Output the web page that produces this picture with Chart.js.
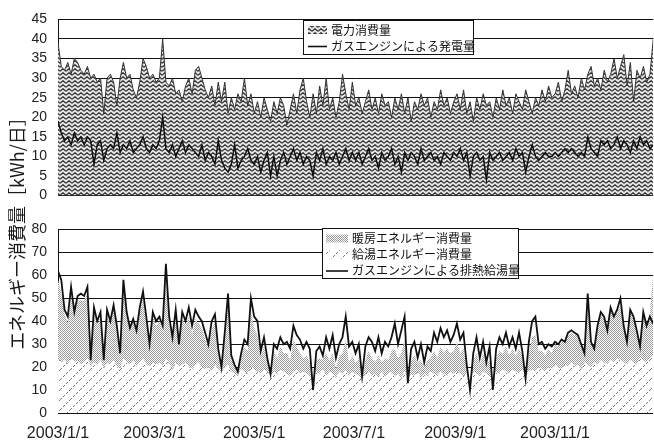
<!DOCTYPE html>
<html>
<head>
<meta charset="utf-8">
<script src="https://cdn.jsdelivr.net/npm/chart.js@4.4.0/dist/chart.umd.min.js"></script>
<style>
body{margin:0;background:#fff;width:654px;height:443px;overflow:hidden;position:relative}
#c1{position:absolute;left:0;top:0}
#c2{position:absolute;left:0;top:210px}
#ytitle{position:absolute;left:-124px;top:218px;width:280px;height:22px;line-height:22px;text-align:center;
  font-family:"Noto Sans CJK JP",sans-serif;font-size:18px;color:#1a1a1a;transform:rotate(-90deg);white-space:nowrap}
</style>
</head>
<body>
<canvas id="c1" width="654" height="215"></canvas>
<canvas id="c2" width="654" height="233"></canvas>
<div id="ytitle">エネルギー消費量［kWh/日］</div>
<script>
// 1点 = 2日おき (2003/1/1 〜 2003/12/31)
var DAY_STEP = 2

// x軸の目盛 (通日) とラベル
var tickDays = [0, 59, 120, 181, 243, 304]
var tickLabels = ['2003/1/1', '2003/3/1', '2003/5/1', '2003/7/1', '2003/9/1', '2003/11/1']

// 凡例
var legendTop = ['電力消費量', 'ガスエンジンによる発電量']
var legendBottom = ['暖房エネルギー消費量', '給湯エネルギー消費量', 'ガスエンジンによる排熱給湯量']

// 上段: 電力消費量
var elecUse = [
  39,33,32,34,31,35,34,32,31,33,30,31,29,30,21,30,
  31,29,23,30,34,30,31,27,25,29,35,33,30,31,
  29,30,40,29,28,30,26,27,24,28,30,26,32,33,30,27,
  25,28,23,29,24,29,21,25,22,26,24,30,23,26,21,
  24,20,25,22,19,24,21,25,23,18,22,26,21,27,30,
  24,20,26,21,28,23,30,22,25,20,24,31,26,22,29,
  23,25,21,24,27,22,25,21,26,23,24,20,25,22,26,21,
  25,19,24,22,26,23,25,20,24,22,27,23,25,21,24,
  26,22,27,21,24,19,25,22,26,23,24,20,25,22,27,
  23,25,21,26,24,22,27,24,21,25,23,27,24,28,25,26,
  29,24,27,32,26,28,25,30,27,31,33,28,30,27,32,
  29,31,35,30,33,36,28,34,24,32,30,33,29,31,40
]

// 上段: ガスエンジンによる発電量
var gasPower = [
  19,16,14,15,13,16,14,15,13,15,14,8,13,14,9,12,
  13,12,16,11,13,12,14,11,12,13,15,12,11,13,
  12,14,20,12,11,13,10,12,14,11,13,12,11,10,13,9,
  11,10,8,14,9,7,6,8,13,7,9,10,12,9,8,
  10,6,9,11,5,10,5,9,11,8,10,12,9,11,8,
  10,9,5,11,9,12,8,10,9,11,8,10,12,9,11,
  9,11,8,10,12,9,10,7,11,9,10,12,8,10,6,11,
  9,11,10,8,12,9,10,11,9,10,8,11,10,9,11,
  10,12,9,11,5,10,11,9,10,4,11,9,10,11,9,
  10,11,9,12,10,11,6,10,13,10,9,10,11,10,10,11,
  10,11,12,11,12,11,10,11,10,15,12,11,10,14,13,
  14,12,13,15,12,14,13,11,14,12,15,13,14,12,13
]

// 下段: 給湯エネルギー消費量
var hotWater = [
  24,22,23,21,24,22,23,21,22,24,20,22,21,23,19,22,
  21,23,20,19,24,22,21,23,20,22,24,21,20,22,
  21,22,20,24,21,19,22,20,21,22,20,19,21,22,20,19,
  20,18,21,19,17,20,21,18,17,16,19,18,17,20,19,
  18,17,19,18,16,18,17,19,18,17,16,18,19,17,18,
  17,16,15,18,17,19,16,18,17,15,18,17,19,16,18,
  17,16,14,17,18,16,17,15,18,16,17,18,16,17,15,18,
  14,17,16,18,15,17,16,18,17,16,18,17,16,18,17,
  18,17,16,17,14,18,17,16,18,17,16,14,18,17,19,
  18,17,19,18,17,19,16,18,19,18,20,19,18,20,19,21,
  20,19,21,20,22,20,21,19,22,21,20,22,21,23,22,
  21,23,22,24,23,22,21,23,22,21,24,23,22,24,25
]

// 下段: 暖房エネルギー消費量 (給湯の上に積み上げ)
var heating = [
  34,30,20,18,26,20,26,28,27,28,6,22,17,19,6,20,
  17,22,16,8,30,20,14,17,15,22,26,19,9,20,
  17,18,16,34,18,12,20,9,20,16,22,15,20,17,17,13,
  9,18,19,7,3,13,26,5,4,2,6,11,10,24,18,
  16,8,10,5,2,9,7,10,8,9,7,14,10,9,6,
  8,6,0,5,7,4,10,5,9,4,7,9,13,6,7,
  5,8,1,6,9,8,5,10,4,8,6,9,12,7,11,14,
  0,6,9,4,8,3,7,6,10,8,11,9,12,8,10,
  13,9,12,2,0,5,9,5,8,4,7,0,6,10,7,
  11,8,9,7,11,6,0,8,14,16,7,8,7,8,7,9,
  9,12,10,14,13,14,14,10,4,26,10,6,16,20,19,
  14,22,19,20,24,15,10,21,19,14,7,20,15,19,35
]

// 下段: ガスエンジンによる排熱給湯量
var wasteHeat = [
  62,58,45,42,55,44,51,52,51,55,23,46,40,44,23,45,
  40,47,38,26,58,44,37,41,36,46,53,42,30,44,
  40,42,38,65,42,33,45,30,44,40,46,38,45,42,40,35,
  30,40,43,28,20,35,52,25,21,18,26,32,30,50,42,
  40,27,33,24,17,30,28,33,30,31,28,38,34,32,28,
  31,28,10,27,29,25,33,28,34,24,30,33,42,29,31,
  26,30,16,29,33,31,27,33,26,31,29,33,39,30,36,42,
  13,28,31,24,30,22,29,27,35,31,37,33,36,31,34,
  39,32,35,21,10,26,33,24,31,22,29,10,28,33,30,
  35,29,33,28,35,27,15,31,40,42,30,31,28,30,29,31,
  30,32,31,35,36,35,34,30,26,52,31,28,38,44,42,
  36,46,42,45,50,38,31,45,42,36,29,44,38,42,39
]

function pts(vals){
    return vals.map(function(v, i){ return {x: i * DAY_STEP, y: v} })
}

//ハッチングのパターンを作る
function makePattern(ctx, w, h, bg, draw){
    var c = document.createElement('canvas')
    c.width = w
    c.height = h
    var g = c.getContext('2d')
    g.fillStyle = bg
    g.fillRect(0, 0, w, h)
    draw(g)
    return ctx.createPattern(c, 'repeat')
}

//グラフ領域を狙った位置に合わせる (上端, 下端)
function fitArea(chart, top, bottom){
    for(var n = 0; n < 3; n++){
        var a = chart.chartArea
        var p = chart.options.layout.padding
        var dt = top - a.top
        var db = a.bottom - bottom
        if(Math.abs(dt) < 0.5 && Math.abs(db) < 0.5) break
        p.top += dt
        p.bottom += db
        chart.update()
    }
}

//凡例の枠を描くプラグイン
var boxLegend = {
    id: 'boxLegend',
    afterDraw: function(chart, args, o){
        var ctx = chart.ctx
        ctx.save()
        ctx.fillStyle = '#fff'
        ctx.fillRect(o.x, o.y, o.w, o.h)
        ctx.strokeStyle = '#111'
        ctx.lineWidth = 1
        ctx.strokeRect(o.x + 0.5, o.y + 0.5, o.w, o.h)
        ctx.font = '12px "Noto Sans CJK JP"'
        ctx.textBaseline = 'middle'
        o.items.forEach(function(it, k){
            var ds = chart.data.datasets[it.ds]
            var cy = o.y + o.rowTop + k * o.rowH
            if(it.box){
                ctx.fillStyle = ds.backgroundColor
                ctx.fillRect(o.swX, cy - 4, o.swW, 8)
            }else{
                ctx.strokeStyle = ds.borderColor
                ctx.lineWidth = 1.6
                ctx.beginPath()
                ctx.moveTo(o.swX, cy + 0.5)
                ctx.lineTo(o.swX + o.swW, cy + 0.5)
                ctx.stroke()
            }
            ctx.fillStyle = '#111'
            ctx.fillText(ds.label, o.textX, cy)
        })
        ctx.restore()
    }
}

function yAxis(max, step){
    return {
        min: 0, max: max,
        ticks: {stepSize: step, color: '#222', padding: 11, font: {family: '"Liberation Sans"', size: 14}},
        grid: {color: '#111', lineWidth: 1, drawTicks: false},
        border: {color: '#111', width: 1},
        afterFit: function(s){ s.width = 58 }
    }
}

//上段グラフ
var ctx1 = document.getElementById('c1').getContext('2d')
var zigzag = makePattern(ctx1, 6, 4, '#e6e6e6', function(g){
    g.strokeStyle = '#333'
    g.lineWidth = 1.2
    g.beginPath()
    g.moveTo(0, 3.3)
    g.lineTo(3, 0.7)
    g.lineTo(6, 3.3)
    g.stroke()
})

var chartTop = new Chart(ctx1, {
    type: 'line',
    data: {
        datasets: [
            {label: legendTop[1], data: pts(gasPower), borderColor: '#111', borderWidth: 1.5, pointRadius: 0, fill: false},
            {label: legendTop[0], data: pts(elecUse), borderColor: '#333', borderWidth: 1, backgroundColor: zigzag, pointRadius: 0, fill: 'origin'}
        ]
    },
    options: {
        responsive: false, animation: false, events: [],
        layout: {padding: {left: 0, right: 0, top: 12, bottom: 12}},
        plugins: {
            legend: {display: false}, tooltip: {enabled: false},
            boxLegend: {x: 303, y: 20, w: 170, h: 34, rowTop: 10, rowH: 16, swX: 308, swW: 19, textX: 331,
                items: [{ds: 1, box: true}, {ds: 0}]}
        },
        scales: {
            x: {type: 'linear', min: 0, max: 364, display: false},
            y: yAxis(45, 5)
        }
    },
    plugins: [boxLegend]
})
fitArea(chartTop, 12, 203)

//下段グラフ
var ctx2 = document.getElementById('c2').getContext('2d')
var dots = makePattern(ctx2, 2, 2, '#fff', function(g){
    g.fillStyle = '#9a9a9a'
    g.fillRect(0, 0, 1, 1)
    g.fillRect(1, 1, 1, 1)
})
var hatch = makePattern(ctx2, 10, 10, '#fff', function(g){
    g.fillStyle = '#7a7a7a'
    for(var k = 0; k < 10; k++){
        if(k % 3 != 2) g.fillRect(k, 9 - k, 1, 1)
    }
})

var chartBottom = new Chart(ctx2, {
    type: 'line',
    data: {
        datasets: [
            {label: legendBottom[2], data: pts(wasteHeat), borderColor: '#111', borderWidth: 1.8, pointRadius: 0, fill: false, stack: 'line'},
            {label: legendBottom[1], data: pts(hotWater), borderColor: 'rgba(0,0,0,0)', borderWidth: 0, backgroundColor: hatch, pointRadius: 0, fill: 'origin', stack: 'heat'},
            {label: legendBottom[0], data: pts(heating), borderColor: 'rgba(0,0,0,0)', borderWidth: 0, backgroundColor: dots, pointRadius: 0, fill: '-1', stack: 'heat'}
        ]
    },
    options: {
        responsive: false, animation: false, events: [],
        layout: {padding: {left: 0, right: 0, top: 11, bottom: 0}},
        plugins: {
            legend: {display: false}, tooltip: {enabled: false},
            boxLegend: {x: 322, y: 18, w: 196, h: 50, rowTop: 10.5, rowH: 16, swX: 326, swW: 22, textX: 352,
                items: [{ds: 2, box: true}, {ds: 1, box: true}, {ds: 0}]}
        },
        scales: {
            x: {
                type: 'linear', min: 0, max: 364,
                afterBuildTicks: function(s){ s.ticks = tickDays.map(function(d){ return {value: d} }) },
                afterFit: function(s){ s.height = 30 },
                ticks: {
                    autoSkip: false, maxRotation: 0, padding: 11, color: '#222',
                    font: {family: '"Liberation Sans"', size: 16},
                    callback: function(v){ return tickLabels[tickDays.indexOf(v)] }
                },
                grid: {display: false, drawTicks: false},
                border: {display: false}
            },
            y: Object.assign(yAxis(80, 10), {stacked: true})
        }
    },
    plugins: [boxLegend]
})
fitArea(chartBottom, 11, 203)
</script>
</body>
</html>
